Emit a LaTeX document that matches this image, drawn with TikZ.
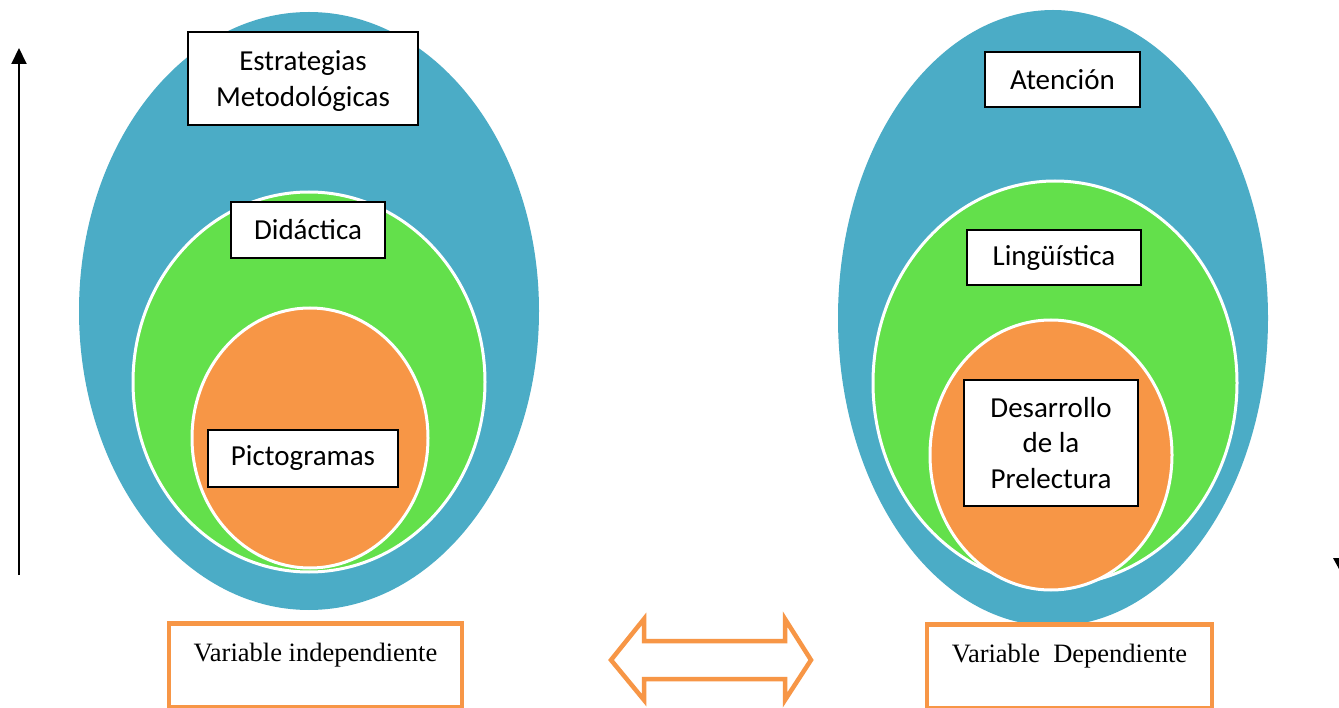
\documentclass[tikz,border=0pt]{standalone}
\usepackage{fontspec}
\setmainfont{Carlito}
\newfontfamily\serifvar{Liberation Serif}
\usetikzlibrary{arrows.meta}
\definecolor{cblue}{HTML}{4BACC6}
\definecolor{cgreen}{HTML}{63E04B}
\definecolor{corange}{HTML}{F79646}
\begin{document}
\begin{tikzpicture}[x=1pt,y={(0,-1pt)},
  outer/.style={fill=cblue},
  mid/.style={fill=cgreen,draw=white,line width=3pt},
  inner/.style={fill=corange,draw=white,line width=3pt},
  lbl/.style={draw=black,fill=white,line width=1.5pt,font=\fontsize{29}{35.5}\selectfont,align=center,inner sep=0pt},
  varbox/.style={draw=corange,fill=white,line width=4.5pt,font=\serifvar\fontsize{26.5}{30}\selectfont,inner sep=0pt,text height=38pt,text depth=46pt},
  dblarrow/.style={draw=corange,fill=white,line width=4.5pt,line join=miter}
]
\useasboundingbox (0,0) rectangle (1339,708);
\fill[white] (0,0) rectangle (1339,708);

% left ellipses
\path[outer] (309,311) ellipse [x radius=230, y radius=299];
\path[mid] (309,382) ellipse [x radius=176, y radius=190];
\path[inner] (310,438) ellipse [x radius=118, y radius=130];

% right ellipses
\path[outer] (1053,318) ellipse [x radius=215, y radius=308];
\path[mid] (1055,383) ellipse [x radius=182, y radius=202];
\path[inner] (1051,455) ellipse [x radius=121, y radius=135];

% left labels
\node[lbl,minimum width=230,minimum height=93,text depth=0pt] (estr) at (303,78.5) {Estrategias\\Metodológicas};
\node[lbl,minimum width=154,minimum height=56] (did) at (308,230) {Didáctica};
\node[lbl,minimum width=190,minimum height=57] (pic) at (303,458.5) {Pictogramas};

% right labels
\node[lbl,minimum width=155,minimum height=55] (aten) at (1062.5,79.5) {Atención};
\node[lbl,minimum width=174,minimum height=55] (ling) at (1054,257.5) {Lingüística};
\node[lbl,minimum width=174,minimum height=126] (desa) at (1051,443) {Desarrollo\\de la\\Prelectura};

% bottom variable boxes
\node[varbox,minimum width=293] (vind) at (315.5,621) [anchor=north] {Variable independiente};
\node[varbox,minimum width=285] (vdep) at (1069.5,622) [anchor=north] {Variable\ \ Dependiente};

% double arrow
\draw[dblarrow] (611,660) -- (644,619) -- (644,641) -- (785,641) -- (785,619) -- (811,660)
  -- (785,700) -- (785,679) -- (644,679) -- (644,700) -- cycle;

% left vertical arrow
\coordinate (abot) at (19,575);
\coordinate (atop) at (19,48);
\draw[line width=2pt,-{Triangle[width=15pt,length=16pt]}] (abot) -- (atop);

% right partial arrow tip
\fill[black] (1333,558) -- (1346,558) -- (1339,569) -- cycle;
\end{tikzpicture}
\end{document}
